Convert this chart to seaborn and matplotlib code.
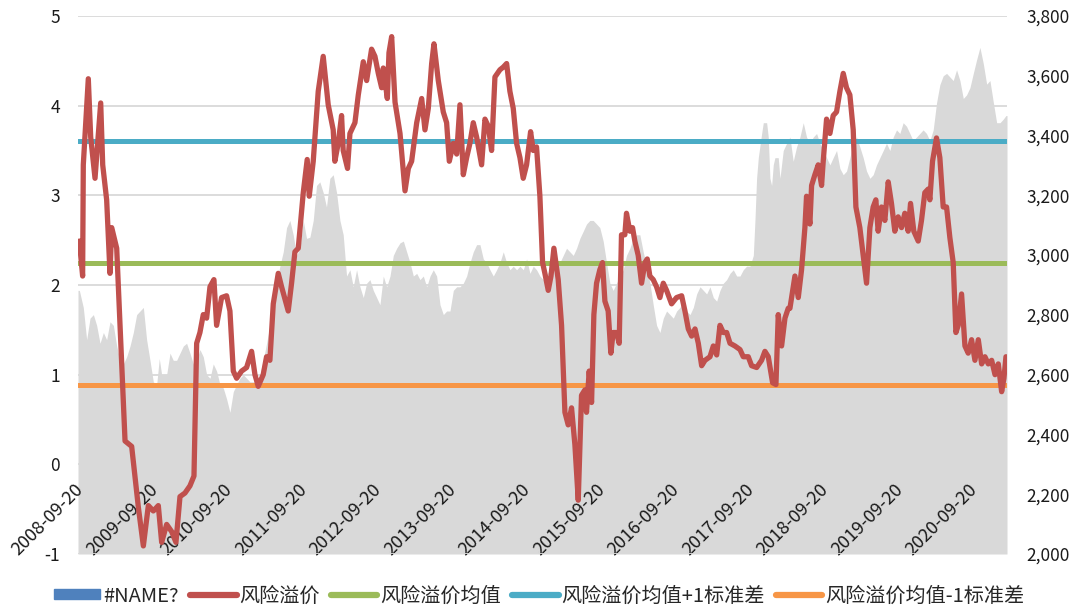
import numpy as np
import pandas as pd
import matplotlib
matplotlib.use("Agg")
import matplotlib.pyplot as plt
import seaborn as sns
from matplotlib.patches import Patch
from matplotlib.lines import Line2D
from matplotlib.ticker import FuncFormatter, FixedLocator, FixedFormatter

# ---------------- data ----------------
# risk premium (left axis), dates as decimal years
prem_years = [2008.698, 2008.742, 2008.751, 2008.818, 2008.850, 2008.908, 2008.984, 2009.011, 2009.064, 2009.109,
              2009.132, 2009.199, 2009.244, 2009.311, 2009.400, 2009.490, 2009.557, 2009.624, 2009.691, 2009.758,
              2009.803, 2009.870, 2009.937, 2009.995, 2010.049, 2010.116, 2010.183, 2010.237, 2010.273, 2010.317,
              2010.362, 2010.407, 2010.452, 2010.505, 2010.541, 2010.608, 2010.675, 2010.720, 2010.765, 2010.810,
              2010.877, 2010.944, 2011.011, 2011.056, 2011.100, 2011.167, 2011.212, 2011.257, 2011.302, 2011.369,
              2011.414, 2011.503, 2011.548, 2011.593, 2011.638, 2011.705, 2011.758, 2011.785, 2011.839, 2011.906,
              2011.973, 2012.040, 2012.107, 2012.129, 2012.174, 2012.219, 2012.241, 2012.299, 2012.331, 2012.398,
              2012.443, 2012.510, 2012.555, 2012.621, 2012.666, 2012.711, 2012.756, 2012.778, 2012.832, 2012.854,
              2012.890, 2012.935, 2013.002, 2013.069, 2013.114, 2013.158, 2013.226, 2013.293, 2013.337, 2013.382,
              2013.427, 2013.458, 2013.516, 2013.583, 2013.628, 2013.664, 2013.718, 2013.763, 2013.807, 2013.852,
              2013.897, 2013.941, 2013.986, 2014.031, 2014.098, 2014.143, 2014.188, 2014.232, 2014.277, 2014.344,
              2014.389, 2014.434, 2014.478, 2014.523, 2014.568, 2014.613, 2014.657, 2014.702, 2014.756, 2014.792,
              2014.836, 2014.881, 2014.917, 2014.948, 2014.993, 2015.030, 2015.069, 2015.127, 2015.172, 2015.217,
              2015.261, 2015.306, 2015.351, 2015.396, 2015.440, 2015.485, 2015.507, 2015.543, 2015.575, 2015.606,
              2015.642, 2015.686, 2015.722, 2015.754, 2015.798, 2015.834, 2015.865, 2015.910, 2015.946, 2015.977,
              2016.022, 2016.044, 2016.089, 2016.125, 2016.156, 2016.201, 2016.246, 2016.291, 2016.322, 2016.357,
              2016.402, 2016.447, 2016.492, 2016.537, 2016.581, 2016.648, 2016.715, 2016.783, 2016.827, 2016.872,
              2016.917, 2016.962, 2017.006, 2017.051, 2017.096, 2017.163, 2017.208, 2017.253, 2017.297, 2017.342,
              2017.387, 2017.432, 2017.498, 2017.566, 2017.610, 2017.677, 2017.722, 2017.790, 2017.856, 2017.901,
              2017.946, 2018.004, 2018.049, 2018.080, 2018.125, 2018.170, 2018.214, 2018.237, 2018.304, 2018.349,
              2018.393, 2018.438, 2018.460, 2018.505, 2018.528, 2018.572, 2018.617, 2018.662, 2018.684, 2018.729,
              2018.774, 2018.818, 2018.863, 2018.908, 2018.953, 2018.997, 2019.042, 2019.087, 2019.123, 2019.176,
              2019.221, 2019.266, 2019.311, 2019.355, 2019.391, 2019.422, 2019.467, 2019.512, 2019.557, 2019.601,
              2019.646, 2019.691, 2019.736, 2019.780, 2019.825, 2019.857, 2019.901, 2019.960, 2020.004, 2020.049,
              2020.094, 2020.116, 2020.152, 2020.205, 2020.250, 2020.295, 2020.340, 2020.384, 2020.429, 2020.465,
              2020.496, 2020.541, 2020.586, 2020.630, 2020.675, 2020.720, 2020.765, 2020.810, 2020.854, 2020.899,
              2020.944, 2020.989, 2021.033, 2021.078, 2021.109, 2021.136]
prem_vals = [2.49, 2.10, 3.34, 4.30, 3.65, 3.19, 4.03, 3.34, 2.95, 2.13,
             2.64, 2.41, 1.55, 0.26, 0.20, -0.48, -0.91, -0.46, -0.52, -0.46,
             -0.87, -0.67, -0.75, -0.87, -0.36, -0.32, -0.24, -0.13, 1.35, 1.47,
             1.67, 1.63, 1.98, 2.06, 1.55, 1.86, 1.88, 1.71, 1.04, 0.96,
             1.04, 1.08, 1.26, 1.00, 0.87, 1.00, 1.20, 1.16, 1.79, 2.13,
             1.98, 1.71, 2.02, 2.37, 2.41, 3.03, 3.40, 2.99, 3.38, 4.16,
             4.55, 4.01, 3.73, 3.38, 3.58, 3.89, 3.50, 3.30, 3.69, 3.81,
             4.12, 4.49, 4.28, 4.63, 4.55, 4.36, 4.20, 4.42, 4.08, 4.59,
             4.77, 4.04, 3.69, 3.05, 3.30, 3.38, 3.81, 4.08, 3.73, 3.97,
             4.47, 4.69, 4.28, 3.93, 3.81, 3.38, 3.58, 3.46, 4.01, 3.23,
             3.42, 3.58, 3.81, 3.65, 3.34, 3.85, 3.77, 3.50, 4.32, 4.40,
             4.43, 4.47, 4.16, 3.97, 3.58, 3.42, 3.19, 3.34, 3.71, 3.50,
             3.54, 2.99, 2.25, 2.13, 1.94, 2.10, 2.41, 2.06, 1.55, 0.58,
             0.44, 0.63, 0.22, -0.40, 0.77, 0.83, 0.58, 1.04, 0.69, 1.67,
             2.02, 2.17, 2.25, 1.82, 1.71, 1.24, 1.47, 1.47, 1.35, 2.56,
             2.56, 2.80, 2.60, 2.64, 2.49, 2.33, 2.02, 2.25, 2.29, 2.10,
             2.06, 1.98, 1.86, 2.02, 1.94, 1.79, 1.86, 1.88, 1.71, 1.51,
             1.43, 1.51, 1.35, 1.10, 1.16, 1.20, 1.32, 1.22, 1.55, 1.47,
             1.47, 1.35, 1.32, 1.28, 1.20, 1.20, 1.10, 1.08, 1.16, 1.26,
             1.20, 0.91, 0.89, 1.67, 1.32, 1.63, 1.74, 1.74, 2.10, 1.86,
             2.17, 2.64, 2.99, 2.68, 3.11, 3.23, 3.34, 3.11, 3.38, 3.85,
             3.69, 3.89, 3.93, 4.16, 4.36, 4.20, 4.12, 3.73, 2.87, 2.64,
             2.33, 2.02, 2.64, 2.87, 2.95, 2.60, 2.87, 2.72, 3.15, 2.91,
             2.60, 2.76, 2.64, 2.80, 2.60, 2.91, 2.60, 2.49, 2.72, 3.03,
             3.07, 2.95, 3.38, 3.64, 3.42, 2.87, 2.87, 2.53, 2.25, 1.47,
             1.55, 1.90, 1.32, 1.24, 1.39, 1.16, 1.39, 1.12, 1.20, 1.12,
             1.16, 1.00, 1.12, 0.81, 0.96, 1.20]

# grey area series "#NAME?" (right axis)
idx_years = [2008.680, 2008.698, 2008.751, 2008.796, 2008.841, 2008.886, 2008.930, 2008.975, 2009.020, 2009.064,
             2009.109, 2009.154, 2009.199, 2009.243, 2009.288, 2009.333, 2009.378, 2009.422, 2009.467, 2009.512,
             2009.557, 2009.601, 2009.646, 2009.691, 2009.736, 2009.771, 2009.803, 2009.870, 2009.915, 2009.959,
             2010.004, 2010.049, 2010.094, 2010.138, 2010.183, 2010.228, 2010.273, 2010.317, 2010.362, 2010.407,
             2010.452, 2010.496, 2010.541, 2010.586, 2010.631, 2010.675, 2010.720, 2010.765, 2010.810, 2010.854,
             2010.899, 2010.989, 2011.078, 2011.123, 2011.167, 2011.212, 2011.257, 2011.302, 2011.346, 2011.391,
             2011.436, 2011.481, 2011.525, 2011.570, 2011.615, 2011.660, 2011.705, 2011.749, 2011.794, 2011.839,
             2011.883, 2011.928, 2011.973, 2012.017, 2012.062, 2012.107, 2012.152, 2012.197, 2012.241, 2012.286,
             2012.331, 2012.375, 2012.420, 2012.465, 2012.510, 2012.555, 2012.599, 2012.644, 2012.689, 2012.733,
             2012.778, 2012.823, 2012.868, 2012.912, 2012.957, 2013.002, 2013.047, 2013.091, 2013.136, 2013.181,
             2013.226, 2013.270, 2013.315, 2013.360, 2013.405, 2013.449, 2013.494, 2013.539, 2013.584, 2013.628,
             2013.673, 2013.718, 2013.763, 2013.807, 2013.852, 2013.897, 2013.942, 2013.986, 2014.031, 2014.076,
             2014.121, 2014.165, 2014.210, 2014.255, 2014.300, 2014.344, 2014.389, 2014.434, 2014.479, 2014.523,
             2014.568, 2014.613, 2014.658, 2014.702, 2014.747, 2014.792, 2014.836, 2014.881, 2014.926, 2015.015,
             2015.105, 2015.194, 2015.239, 2015.284, 2015.329, 2015.373, 2015.418, 2015.463, 2015.507, 2015.552,
             2015.597, 2015.642, 2015.686, 2015.731, 2015.776, 2015.821, 2015.865, 2015.910, 2015.955, 2016.000,
             2016.044, 2016.089, 2016.134, 2016.179, 2016.223, 2016.268, 2016.313, 2016.358, 2016.402, 2016.447,
             2016.492, 2016.537, 2016.581, 2016.626, 2016.671, 2016.716, 2016.760, 2016.805, 2016.850, 2016.895,
             2016.939, 2016.984, 2017.029, 2017.074, 2017.118, 2017.163, 2017.208, 2017.253, 2017.297, 2017.342,
             2017.387, 2017.432, 2017.476, 2017.521, 2017.566, 2017.610, 2017.655, 2017.700, 2017.745, 2017.767,
             2017.789, 2017.812, 2017.857, 2017.879, 2017.924, 2017.946, 2017.968, 2017.991, 2018.013, 2018.035,
             2018.080, 2018.103, 2018.147, 2018.192, 2018.237, 2018.281, 2018.326, 2018.371, 2018.416, 2018.460,
             2018.505, 2018.550, 2018.595, 2018.639, 2018.684, 2018.729, 2018.774, 2018.818, 2018.863, 2018.908,
             2018.953, 2018.997, 2019.042, 2019.087, 2019.132, 2019.176, 2019.221, 2019.266, 2019.311, 2019.355,
             2019.400, 2019.445, 2019.490, 2019.534, 2019.579, 2019.624, 2019.669, 2019.713, 2019.758, 2019.803,
             2019.848, 2019.892, 2019.937, 2019.982, 2020.026, 2020.071, 2020.116, 2020.161, 2020.206, 2020.250,
             2020.295, 2020.340, 2020.385, 2020.429, 2020.474, 2020.519, 2020.564, 2020.608, 2020.653, 2020.698,
             2020.742, 2020.787, 2020.832, 2020.877, 2020.921, 2020.966, 2021.011, 2021.056, 2021.100, 2021.136,
             2021.150]
idx_vals = [2882, 2882, 2825, 2717, 2789, 2801, 2765, 2705, 2741, 2717,
            2777, 2765, 2696, 2648, 2636, 2660, 2696, 2741, 2801, 2813,
            2825, 2717, 2648, 2576, 2567, 2654, 2600, 2600, 2672, 2648,
            2648, 2672, 2696, 2705, 2672, 2636, 2648, 2684, 2660, 2600,
            2588, 2636, 2612, 2567, 2555, 2519, 2474, 2543, 2567, 2588,
            2600, 2576, 2576, 2600, 2648, 2705, 2765, 2825, 2906, 2963,
            3011, 3092, 3116, 3068, 2999, 3023, 3116, 3056, 3060, 3116,
            3233, 3245, 3209, 3161, 3257, 3269, 3209, 3116, 3068, 2930,
            2951, 2894, 2951, 2894, 2858, 2906, 2918, 2882, 2858, 2834,
            2930, 2894, 2930, 2999, 3023, 3041, 3047, 3011, 2975, 2930,
            2939, 2918, 2930, 2894, 2930, 2951, 2930, 2834, 2801, 2813,
            2813, 2882, 2894, 2894, 2906, 2930, 2975, 3011, 3035, 3035,
            2987, 2975, 2951, 2930, 2951, 2975, 3011, 2975, 2951, 2963,
            2951, 2963, 2951, 2987, 2939, 2963, 2951, 2930, 2918, 2951,
            2951, 2999, 3023, 3011, 2999, 3023, 3056, 3080, 3104, 3116,
            3116, 3104, 3092, 3047, 2975, 2906, 2882, 2906, 2930, 2951,
            2999, 3023, 3056, 3068, 3068, 3011, 2963, 2906, 2834, 2765,
            2741, 2789, 2813, 2801, 2789, 2813, 2825, 2846, 2813, 2801,
            2825, 2870, 2894, 2882, 2870, 2894, 2858, 2846, 2882, 2906,
            2918, 2939, 2951, 2930, 2930, 2951, 2963, 2963, 2999, 3116,
            3257, 3326, 3407, 3443, 3443, 3395, 3257, 3233, 3302, 3326,
            3326, 3257, 3350, 3374, 3395, 3314, 3362, 3395, 3443, 3395,
            3374, 3395, 3407, 3374, 3350, 3326, 3302, 3326, 3350, 3290,
            3269, 3281, 3326, 3374, 3395, 3362, 3326, 3281, 3257, 3269,
            3302, 3326, 3350, 3374, 3350, 3395, 3419, 3407, 3443, 3431,
            3407, 3383, 3395, 3407, 3419, 3407, 3383, 3419, 3510, 3570,
            3600, 3608, 3596, 3584, 3620, 3584, 3524, 3536, 3560, 3608,
            3653, 3695, 3641, 3572, 3584, 3512, 3443, 3443, 3455, 3467,
            3467]

# reference lines (left axis)
mean_val = 2.25
upper_val = 3.61   # mean + 1 std
lower_val = 0.89   # mean - 1 std

tick_labels = ["2008-09-20", "2009-09-20", "2010-09-20", "2011-09-20", "2012-09-20", "2013-09-20",
               "2014-09-20", "2015-09-20", "2016-09-20", "2017-09-20", "2018-09-20", "2019-09-20",
               "2020-09-20"]
left_ticks = [-1, 0, 1, 2, 3, 4, 5]
right_ticks = [2000, 2200, 2400, 2600, 2800, 3000, 3200, 3400, 3600, 3800]

legend_labels = ["#NAME?", "风险溢价", "风险溢价均值", "风险溢价均值+1标准差", "风险溢价均值-1标准差"]


def yr2dt(y):
    y0 = int(np.floor(y))
    a = pd.Timestamp(year=y0, month=1, day=1)
    b = pd.Timestamp(year=y0 + 1, month=1, day=1)
    return a + (b - a) * (y - y0)


prem_df = pd.DataFrame({"date": [yr2dt(v) for v in prem_years], "premium": prem_vals})
idx_df = pd.DataFrame({"date": [yr2dt(v) for v in idx_years], "index": idx_vals})
tick_dates = pd.to_datetime(tick_labels)

# ---------------- style ----------------
sns.set_theme(style="white")
plt.rcParams['font.family'] = ['Noto Sans CJK SC', 'DejaVu Sans']
plt.rcParams['axes.unicode_minus'] = False

RED = "#C0504D"
GREEN = "#9BBB59"
BLUE = "#4BACC6"
ORANGE = "#F79646"
NAVY = "#4F81BD"
GREY = "#D9D9D9"
TXT = "#1a1a1a"

fig = plt.figure(figsize=(10.83, 6.13), dpi=100)
ax = fig.add_axes([78 / 1083, 1 - 554 / 613, (1007 - 78) / 1083, (554 - 16) / 613])
ax2 = ax.twinx()

# grey area on right axis
ax2.fill_between(idx_df["date"], 2000, idx_df["index"], color=GREY, lw=0, zorder=1)
ax2.set_ylim(2000, 3800)
ax2.yaxis.set_major_locator(FixedLocator(right_ticks))
ax2.yaxis.set_major_formatter(FuncFormatter(lambda v, p: f"{int(v):,}"))
ax2.tick_params(axis='y', length=0, pad=14, labelsize=12.5, colors=TXT)
for s in ax2.spines.values():
    s.set_visible(False)
ax2.grid(False)

# main axis on top
ax.set_zorder(ax2.get_zorder() + 1)
ax.patch.set_visible(False)
ax.set_ylim(-1, 5)
ax.yaxis.set_major_locator(FixedLocator(left_ticks))
ax.yaxis.grid(True, color="#D9D9D9", lw=1.3)
ax.xaxis.grid(False)
ax.set_axisbelow(True)

sns.lineplot(data=prem_df, x="date", y="premium", ax=ax, color=RED, lw=3.8,
             estimator=None, sort=False, zorder=5)
ax.axhline(mean_val, color=GREEN, lw=3.6, zorder=4)
ax.axhline(upper_val, color=BLUE, lw=3.6, zorder=4)
ax.axhline(lower_val, color=ORANGE, lw=3.6, zorder=4)

ax.set_xlim(idx_df["date"].iloc[0], idx_df["date"].iloc[-1])
ax.set_xlabel("")
ax.set_ylabel("")
ax.xaxis.set_major_locator(FixedLocator(matplotlib.dates.date2num(tick_dates)))
ax.xaxis.set_major_formatter(FixedFormatter(tick_labels))
ax.spines['bottom'].set_position(('data', 0))
for s in ax.spines.values():
    s.set_visible(False)
ax.tick_params(axis='x', length=0, pad=16, labelsize=13, colors=TXT, labelrotation=45)
ax.tick_params(axis='y', length=0, pad=13, labelsize=12.5, colors=TXT)
fig.canvas.draw()
for lbl in ax.get_xticklabels():
    lbl.set_rotation(45)
    lbl.set_horizontalalignment("right")
    lbl.set_verticalalignment("center")
    lbl.set_rotation_mode("anchor")

handles = [Patch(facecolor=NAVY, edgecolor=NAVY),
           Line2D([], [], color=RED, lw=4.5, solid_capstyle="round"),
           Line2D([], [], color=GREEN, lw=4.5, solid_capstyle="round"),
           Line2D([], [], color=BLUE, lw=4.5, solid_capstyle="round"),
           Line2D([], [], color=ORANGE, lw=4.5, solid_capstyle="round")]
fig.legend(handles, legend_labels, loc="center", bbox_to_anchor=(0.498, 1 - 596 / 613), ncol=5,
           frameon=False, fontsize=14.5, handlelength=2.3, handleheight=0.4, handletextpad=0.15,
           columnspacing=0.55, borderaxespad=0)

fig.savefig("out.png", dpi=100, facecolor="white")
